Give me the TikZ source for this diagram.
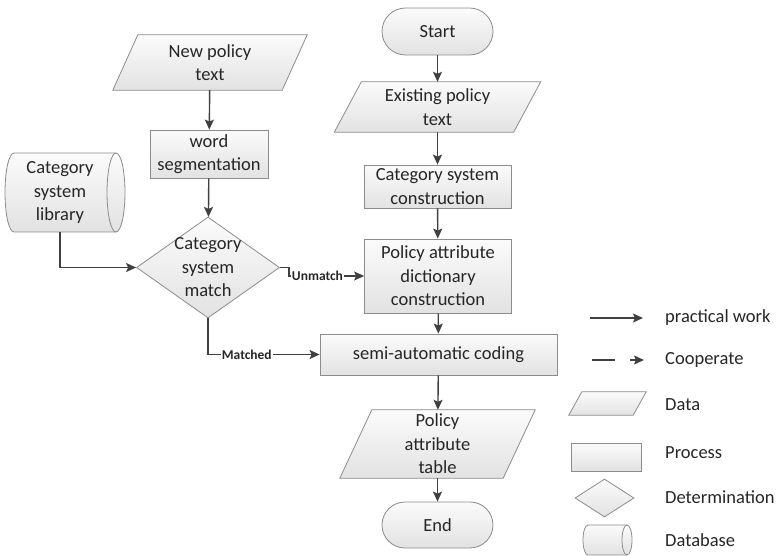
\documentclass[tikz,border=0pt]{standalone}
\usepackage{fontspec}
\setmainfont{Carlito}
\usetikzlibrary{shapes.geometric,arrows.meta,backgrounds}
\definecolor{shTop}{HTML}{FBFBFB}
\definecolor{shBot}{HTML}{E2E2E2}
\definecolor{bord}{HTML}{8C8C8C}
\definecolor{arrc}{HTML}{404040}
\definecolor{txt}{HTML}{262626}
\tikzset{
  shadefill/.style={top color=shTop, bottom color=shBot, draw=bord, line width=0.8pt},
  base/.style={font=\fontsize{18.5}{23.5}\selectfont, text=txt, align=center, inner sep=1pt},
  procbox/.style={base, shadefill, rectangle},
  termbox/.style={base, shadefill, rectangle},
  databox/.style={base, rectangle, draw=none},
  diambox/.style={shadefill, diamond},
  arr/.style={draw=arrc, line width=1.4pt, -{Stealth[length=10pt,width=9pt,inset=2pt]}},
  lbl/.style={font=\bfseries\fontsize{13.5}{15}\selectfont, text=txt, fill=white, inner sep=1pt},
  legtxt/.style={font=\fontsize{18.5}{23}\selectfont, text=txt, anchor=west, inner sep=0pt},
}
\newcommand\paral[2]{%
  \path[shadefill] ([xshift=#2]#1.north west) -- ([xshift=#2]#1.north east) --
    ([xshift=-#2]#1.south east) -- ([xshift=-#2]#1.south west) -- cycle;}
% cylinder: left x, right x, top y, bottom y, rx
\newcommand\cylshape[5]{%
  \pgfmathsetmacro\cyA{#1+#5}\pgfmathsetmacro\cyB{#2-#5}%
  \pgfmathsetmacro\cyR{(#4-#3)/2}%
  \path[shadefill] (\cyA,#3) -- (\cyB,#3)
    arc[start angle=-90, end angle=90, x radius=#5, y radius=\cyR] -- (\cyA,#4)
    arc[start angle=90, end angle=270, x radius=#5, y radius=\cyR] -- cycle;
  \draw[bord, line width=0.8pt] (\cyB,#3) arc[start angle=270, end angle=90, x radius=#5, y radius=\cyR];}
\begin{document}
\begin{tikzpicture}[x=1pt,y=-1pt]
\useasboundingbox (0,0) rectangle (777,556);

% right column
\node[termbox, minimum width=111pt, minimum height=47pt, rounded corners=23.5pt] (start) at (437.5,31.5) {Start};
\node[databox, minimum width=179pt, minimum height=50pt] (exist) at (437.5,107) {Existing policy\\text};
\node[procbox, minimum width=147pt, minimum height=43pt] (csc) at (437.5,186.5) {Category system\\construction};
\node[procbox, minimum width=147pt, minimum height=74pt] (pad) at (438,276) {Policy attribute\\dictionary\\construction};
\node[procbox, minimum width=237pt, minimum height=41pt] (sac) at (438.5,354.5) {semi-automatic coding};
\node[databox, minimum width=163pt, minimum height=68pt] (table) at (437.5,444) {Policy\\attribute\\table};
\node[termbox, minimum width=111pt, minimum height=46pt, rounded corners=23pt] (end) at (437.5,525) {End};

% left column
\node[databox, minimum width=169pt, minimum height=55pt] (newp) at (210,62.5) {New policy\\text};
\node[procbox, minimum width=118pt, minimum height=48pt] (word) at (209,154) {word\\segmentation};
\node[diambox, minimum width=143pt, minimum height=101pt, aspect=1.416, inner sep=0pt] (dia) at (208,267.5) {};
\node[base] (diatext) at (dia.center) {Category\\system\\match};
\node[databox, minimum width=110pt, minimum height=79pt] (lib) at (60,192.5) {Category\\system\\library};

% legend
\coordinate (pwA) at (590,318); \coordinate (pwB) at (643,318);
\coordinate (coA) at (592,360); \coordinate (coB) at (644,360);
\node[legtxt] (pwT) at (665,318) {practical work};
\node[legtxt] (coT) at (665,360) {Cooperate};
\node[databox, minimum width=64pt, minimum height=23pt] (lgData) at (607.5,403.5) {};
\node[legtxt] (daT) at (665,405) {Data};
\node[procbox, minimum width=70pt, minimum height=28pt] (lgProc) at (606,457) {};
\node[legtxt] (prT) at (665,453) {Process};
\node[diambox, minimum width=59pt, minimum height=38pt, aspect=1.55, inner sep=0pt] (lgDet) at (604.5,498) {};
\node[legtxt] (deT) at (665,497) {Determination};
\node[base, minimum width=44pt, minimum height=30pt] (lgDb) at (605,540) {};
\node[legtxt] (dbT) at (665,540) {Database};

\begin{pgfonlayer}{background}
  \paral{exist}{13.5pt}
  \paral{table}{16pt}
  \paral{newp}{12.5pt}
  \paral{lgData}{6.5pt}
  \cylshape{5}{125}{153}{232}{9}
  \cylshape{583}{632}{525}{555}{5}
\end{pgfonlayer}

% connectors
\draw[arr] (start) -- (exist);
\draw[arr] (exist) -- (csc);
\draw[arr] (csc) -- (pad);
\draw[arr] (pad) -- (sac);
\draw[arr] (sac) -- (table);
\draw[arr] (table) -- (end);
\draw[arr] (newp) -- (word);
\draw[arr] (word) -- (dia);
\draw[arr] (lib.south) |- (dia.west);
\draw[arr] (dia.east) -- ++(9,0) |- (pad.west) node[lbl, pos=0.69] {Unmatch};
\draw[arr] (dia.south) |- (sac.west) node[lbl, pos=0.674] {Matched};

\draw[arr] (pwA) -- (pwB);
\draw[arr, dash pattern=on 23pt off 15pt on 30pt] (coA) -- (coB);
\end{tikzpicture}
\end{document}
